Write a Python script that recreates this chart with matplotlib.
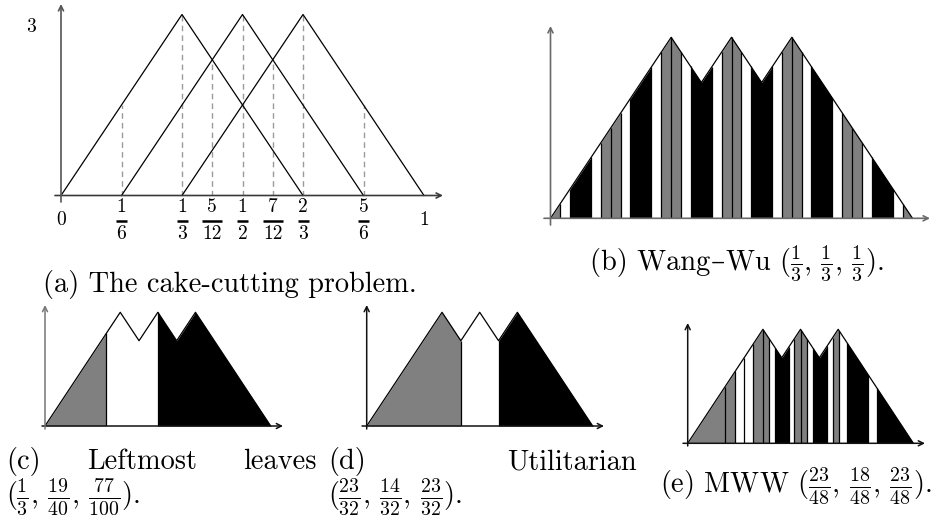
import numpy as np
import matplotlib
matplotlib.use('Agg')
import matplotlib.pyplot as plt
from matplotlib import transforms

plt.rcParams['mathtext.fontset'] = 'cm'
plt.rcParams['font.family'] = ['cmr10', 'DejaVu Serif']
plt.rcParams['axes.unicode_minus'] = False

# ---------------- data ----------------
# three agents' triangular valuations on the cake [0, 1]
peaks = [1/3, 1/2, 2/3]
half_width = 1/3
peak_height = 3

# panel (a) tick marks and fraction labels
tick_pos = [1/6, 1/3, 5/12, 1/2, 7/12, 2/3, 5/6]
tick_num = ['1', '1', '5', '1', '7', '2', '5']
tick_den = ['6', '3', '12', '2', '12', '3', '6']
end_labels = ['0', '1']
y_label = '3'

G, Wt, B = '#808080', 'white', 'black'

# (b) Wang-Wu allocation
ww_bounds = [0.0, 0.027, 0.053, 0.112, 0.139, 0.167,
             0.194, 0.220, 0.279, 0.306, 0.333,
             0.361, 0.387, 0.446, 0.473, 0.500,
             0.527, 0.553, 0.613, 0.639, 0.667,
             0.694, 0.720, 0.779, 0.806, 0.833,
             0.861, 0.887, 0.946, 0.973, 1.0]
ww_colors = [G, Wt, B, Wt, G,
             G, Wt, B, Wt, G,
             G, Wt, B, Wt, G,
             G, Wt, B, Wt, G,
             G, Wt, B, Wt, G,
             G, Wt, B, Wt, G]

# (c) Leftmost leaves
lm_bounds = [0.0, 0.272, 0.5, 1.0]
lm_colors = [G, Wt, B]

# (d) Utilitarian
ut_bounds = [0.0, 5/12, 7/12, 1.0]
ut_colors = [G, Wt, B]

# (e) MWW
mww_bounds = [0.0, 0.165, 0.210, 0.249, 0.291, 0.335, 0.362, 0.387, 0.449,
              0.472, 0.501, 0.527, 0.554, 0.619, 0.642, 0.672, 0.707, 0.800,
              0.837, 1.0]
mww_colors = [G, G, Wt, Wt, G, G, Wt, B, Wt, G, G, Wt, B, Wt, G, Wt, B, Wt, B]

captions = {
    'a': '(a) The cake-cutting problem.',
    'b': [('(b) Wang', None), ('–', 'DejaVu Serif'),
          (r'Wu ($\frac{1}{3}$, $\frac{1}{3}$, $\frac{1}{3}$).', None)],
    'c1': ['(c)', 'Leftmost', 'leaves'],
    'c2': r'($\frac{1}{3}$, $\frac{19}{40}$, $\frac{77}{100}$).',
    'd1': ['(d)', 'Utilitarian'],
    'd2': r'($\frac{23}{32}$, $\frac{14}{32}$, $\frac{23}{32}$).',
    'e': r'(e) MWW ($\frac{23}{48}$, $\frac{18}{48}$, $\frac{23}{48}$).',
}

# ---------------- figure ----------------
W, H = 949, 525
fig = plt.figure(figsize=(W / 100, H / 100), dpi=100)
CAP = 20.4


def env(x):
    x = np.asarray(x, float)
    vals = [peak_height * np.clip(1 - np.abs(x - p) / half_width, 0, None) for p in peaks]
    return np.max(vals, axis=0)


kinks = list(peaks) + [(peaks[i] + peaks[i + 1]) / 2 for i in range(len(peaks) - 1)]


def make_ax(ox, oy, wpx, hpx):
    ax = fig.add_axes([ox / W, 1 - oy / H, wpx / W, hpx / H])
    ax.set_xlim(0, 1)
    ax.set_ylim(0, peak_height)
    ax.axis('off')
    ax.set_zorder(1)
    return ax


def arrows(ax, ox, oy, wpx, hpx, xr, yr, xcol, ycol, lw=1.0):
    x0 = (xr[0] - ox) / wpx
    x1 = (xr[1] - ox) / wpx
    y0 = (oy - yr[0]) / hpx * peak_height
    y1 = (oy - yr[1]) / hpx * peak_height
    ax.annotate('', xy=(x1, 0), xytext=(x0, 0), annotation_clip=False,
                arrowprops=dict(arrowstyle='->', lw=lw, color=xcol,
                                shrinkA=0, shrinkB=0, mutation_scale=9), zorder=5)
    ax.annotate('', xy=(0, y1), xytext=(0, y0), annotation_clip=False,
                arrowprops=dict(arrowstyle='->', lw=lw, color=ycol,
                                shrinkA=0, shrinkB=0, mutation_scale=9), zorder=5)


def draw_alloc(ax, bounds, colors, lw=0.9):
    for a, b, c in zip(bounds[:-1], bounds[1:], colors):
        xs = np.linspace(a, b, 300)
        xs = np.union1d(xs, [k for k in kinks if a < k < b])
        ax.fill_between(xs, 0, env(xs), color=c, lw=0, zorder=2)
    inner = np.array(bounds[1:-1])
    ax.vlines(inner, 0, env(inner), color='black', lw=lw, zorder=3)
    xs = np.union1d(np.linspace(0, 1, 3001), kinks)
    ax.plot(xs, env(xs), color='black', lw=lw, zorder=4, clip_on=False)


def ftext(x, y, s, **kw):
    kw.setdefault('fontsize', CAP)
    kw.setdefault('va', 'baseline')
    return fig.text(x / W, 1 - y / H, s, **kw)


def seq_text(xc, y, parts):
    r = fig.canvas.get_renderer()
    objs = []
    for s, fam in parts:
        kw = dict(ha='left')
        if fam:
            kw['family'] = fam
        objs.append(ftext(0, y, s, **kw))
    widths = [o.get_window_extent(r).width for o in objs]
    x = xc - sum(widths) / 2
    for o, w in zip(objs, widths):
        o.set_x(x / W)
        x += w


# ---------- (a) ----------
ox, oy, wpx, hpx = 61, 195.5, 363, 181
ax = make_ax(ox, oy, wpx, hpx)
for p in peaks:
    ax.plot([p - half_width, p, p + half_width], [0, peak_height, 0],
            color='black', lw=0.9, zorder=3, clip_on=False)
tp = np.array(tick_pos)
ax.vlines(tp, 0, env(tp), color='#9a9a9a', lw=1.0, linestyles=(0, (4, 3)), zorder=2)
arrows(ax, ox, oy, wpx, hpx, (55, 443), (202, 4), '#3a3a3a', '#555555', lw=1.2)
TK = 14
off_num = transforms.offset_copy(ax.transData, fig=fig, x=0, y=-12, units='dots')
off_bar = transforms.offset_copy(ax.transData, fig=fig, x=0, y=-25, units='dots')
off_den = transforms.offset_copy(ax.transData, fig=fig, x=0, y=-38.5, units='dots')
for t, n, d in zip(tick_pos, tick_num, tick_den):
    ax.text(t, 0, n, transform=off_num, ha='center', va='center', fontsize=TK)
    ax.text(t, 0, d, transform=off_den, ha='center', va='center', fontsize=TK)
    bw = (5.5 if len(d) == 1 else 9.8) / wpx
    ax.plot([t - bw, t + bw], [0, 0], transform=off_bar, color='black', lw=1.8,
            solid_capstyle='butt', clip_on=False)
for xv, s in zip([0, 1], end_labels):
    ax.text(xv, 0, s, transform=off_bar, ha='center', va='center', fontsize=TK)
ax.text(-30 / wpx, (oy - 27) / hpx * peak_height, y_label, ha='center', va='center',
        fontsize=TK)
ftext(230, 292, captions['a'], ha='center')

# ---------- (b) ----------
ox, oy, wpx, hpx = 550.5, 218.3, 362, 181
ax = make_ax(ox, oy, wpx, hpx)
draw_alloc(ax, ww_bounds, ww_colors)
arrows(ax, ox, oy, wpx, hpx, (544, 930), (225, 26), '#6a6a6a', '#6a6a6a', lw=1.2)
seq_text(737, 270, captions['b'])

# ---------- (c) ----------
ox, oy, wpx, hpx = 45, 426, 225.7, 113.7
ax = make_ax(ox, oy, wpx, hpx)
draw_alloc(ax, lm_bounds, lm_colors)
arrows(ax, ox, oy, wpx, hpx, (42, 283), (429, 305), '#111111', '#777777', lw=1.1)
ftext(6, 469, captions['c1'][0], ha='left')
ftext(87, 469, captions['c1'][1], ha='left')
ftext(317, 469, captions['c1'][2], ha='right')
ftext(6, 503, captions['c2'], ha='left')

# ---------- (d) ----------
ox, oy, wpx, hpx = 366.7, 426, 226, 113.7
ax = make_ax(ox, oy, wpx, hpx)
draw_alloc(ax, ut_bounds, ut_colors)
arrows(ax, ox, oy, wpx, hpx, (362, 604), (429, 305), '#111111', '#111111', lw=1.1)
ftext(328, 469, captions['d1'][0], ha='left')
ftext(637, 469, captions['d1'][1], ha='right')
ftext(328, 503, captions['d2'], ha='left')

# ---------- (e) ----------
ox, oy, wpx, hpx = 687.7, 443.3, 225.7, 114
ax = make_ax(ox, oy, wpx, hpx)
draw_alloc(ax, mww_bounds, mww_colors)
arrows(ax, ox, oy, wpx, hpx, (683, 925), (446, 323), '#111111', '#111111', lw=1.1)
ftext(796, 492, captions['e'], ha='center')

fig.savefig('out.png', dpi=100)
